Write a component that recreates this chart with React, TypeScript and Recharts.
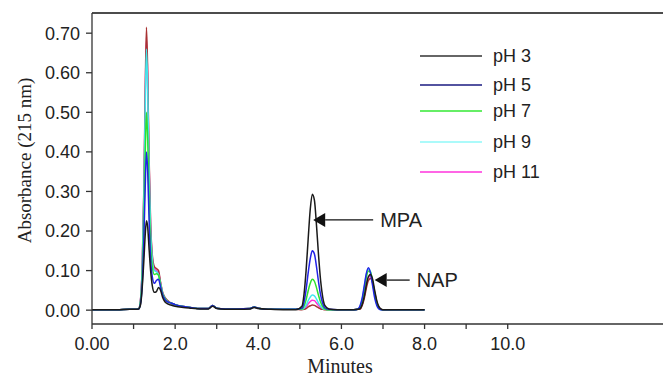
import { ComposedChart, Line, XAxis, YAxis, ReferenceLine, ReferenceDot } from "recharts";

const SANS = "'Liberation Sans', Arial, sans-serif";
const SERIF = "'Liberation Serif', 'Times New Roman', serif";
const INK = "#222";

// retention time, minutes
const TIME = [
  0, 0.3, 0.6, 0.9, 1.05,
  1.12, 1.17, 1.21, 1.25, 1.28, 1.31, 1.34, 1.37, 1.41, 1.45, 1.5, 1.55, 1.6, 1.65, 1.7, 1.75, 1.8,
  1.9, 2.0, 2.2, 2.4, 2.6, 2.8, 2.9, 3.0, 3.2, 3.5, 3.8, 3.9, 4.0, 4.3, 4.6, 4.9,
  5.05, 5.1, 5.15, 5.2, 5.25, 5.3, 5.35, 5.4, 5.45, 5.5, 5.55, 5.6,
  5.7, 5.9, 6.1, 6.3,
  6.4, 6.45, 6.5, 6.55, 6.6, 6.65, 6.7, 6.75, 6.8, 6.85, 6.9, 6.95, 7.0,
  7.1, 7.3, 7.6, 8.0,
];

const PH3 = [
  0.001, 0.001, 0.001, 0.002, 0.002,
  0.003, 0.015, 0.06, 0.13, 0.19, 0.226, 0.21, 0.16, 0.1, 0.062, 0.045, 0.047, 0.057, 0.05, 0.032, 0.022, 0.017,
  0.013, 0.01, 0.007, 0.005, 0.003, 0.003, 0.01, 0.004, 0.002, 0.002, 0.003, 0.007, 0.004, 0.002, 0.001, 0.001,
  0.01, 0.04, 0.1, 0.18, 0.255, 0.293, 0.278, 0.215, 0.138, 0.074, 0.033, 0.012,
  0.003, 0.001, 0.001, 0.001,
  0.002, 0.004, 0.014, 0.035, 0.064, 0.085, 0.09, 0.078, 0.05, 0.024, 0.009, 0.003, 0.001,
  0.001, 0.001, 0.001, 0.001,
];

const PH5 = [
  0.001, 0.001, 0.001, 0.002, 0.002,
  0.003, 0.018, 0.07, 0.19, 0.31, 0.4, 0.35, 0.24, 0.13, 0.085, 0.068, 0.075, 0.078, 0.058, 0.038, 0.028, 0.022,
  0.018, 0.014, 0.009, 0.006, 0.004, 0.004, 0.012, 0.005, 0.003, 0.003, 0.004, 0.008, 0.005, 0.002, 0.002, 0.002,
  0.005, 0.02, 0.052, 0.094, 0.13, 0.15, 0.142, 0.11, 0.071, 0.038, 0.017, 0.006,
  0.002, 0.001, 0.001, 0.001,
  0.003, 0.012, 0.031, 0.062, 0.093, 0.107, 0.093, 0.062, 0.031, 0.012, 0.003, 0.001, 0.001,
  0.001, 0.001, 0.001, 0.001,
];

const PH7 = [
  0.001, 0.001, 0.001, 0.002, 0.002,
  0.003, 0.022, 0.085, 0.23, 0.39, 0.5, 0.43, 0.29, 0.16, 0.11, 0.09, 0.092, 0.088, 0.062, 0.04, 0.03, 0.023,
  0.018, 0.014, 0.009, 0.006, 0.004, 0.004, 0.012, 0.005, 0.003, 0.003, 0.004, 0.008, 0.005, 0.002, 0.002, 0.002,
  0.003, 0.01, 0.026, 0.049, 0.068, 0.078, 0.073, 0.057, 0.037, 0.02, 0.009, 0.003,
  0.001, 0.001, 0.001, 0.001,
  0.002, 0.008, 0.024, 0.052, 0.083, 0.099, 0.096, 0.072, 0.041, 0.017, 0.006, 0.002, 0.001,
  0.001, 0.001, 0.001, 0.001,
];

const PH9 = [
  0.001, 0.001, 0.001, 0.002, 0.002,
  0.003, 0.028, 0.11, 0.3, 0.51, 0.66, 0.56, 0.37, 0.2, 0.13, 0.1, 0.097, 0.09, 0.066, 0.043, 0.031, 0.024,
  0.018, 0.014, 0.009, 0.006, 0.004, 0.004, 0.012, 0.005, 0.003, 0.003, 0.004, 0.008, 0.005, 0.002, 0.002, 0.002,
  0.002, 0.005, 0.012, 0.024, 0.033, 0.038, 0.036, 0.028, 0.018, 0.01, 0.004, 0.002,
  0.001, 0.001, 0.001, 0.001,
  0.003, 0.01, 0.028, 0.058, 0.09, 0.104, 0.097, 0.07, 0.037, 0.015, 0.005, 0.001, 0.001,
  0.001, 0.001, 0.001, 0.001,
];

const PH11 = [
  0.001, 0.001, 0.001, 0.002, 0.002,
  0.003, 0.03, 0.115, 0.31, 0.53, 0.69, 0.58, 0.385, 0.21, 0.135, 0.105, 0.1, 0.095, 0.068, 0.044, 0.032, 0.025,
  0.018, 0.014, 0.009, 0.006, 0.004, 0.004, 0.012, 0.005, 0.003, 0.003, 0.004, 0.008, 0.005, 0.002, 0.002, 0.002,
  0.002, 0.003, 0.008, 0.016, 0.022, 0.025, 0.024, 0.018, 0.012, 0.006, 0.003, 0.002,
  0.001, 0.001, 0.001, 0.001,
  0.002, 0.004, 0.016, 0.038, 0.066, 0.083, 0.085, 0.07, 0.043, 0.02, 0.007, 0.002, 0.001,
  0.001, 0.001, 0.001, 0.001,
];

// unlabelled dark red trace in the original
const EXTRA = [
  0.001, 0.001, 0.001, 0.002, 0.002,
  0.003, 0.03, 0.12, 0.32, 0.55, 0.715, 0.6, 0.4, 0.22, 0.14, 0.11, 0.105, 0.1, 0.07, 0.045, 0.033, 0.026,
  0.018, 0.014, 0.009, 0.006, 0.004, 0.004, 0.012, 0.005, 0.003, 0.003, 0.004, 0.008, 0.005, 0.002, 0.002, 0.002,
  0.001, 0.002, 0.004, 0.008, 0.011, 0.013, 0.012, 0.009, 0.006, 0.003, 0.002, 0.001,
  0.001, 0.001, 0.001, 0.001,
  0.002, 0.003, 0.012, 0.03, 0.056, 0.075, 0.08, 0.07, 0.045, 0.021, 0.008, 0.002, 0.001,
  0.001, 0.001, 0.001, 0.001,
];

const X_TICKS = [0, 1, 2, 3, 4, 5, 6, 7, 8, 9, 10];
const Y_TICKS = [0, 0.1, 0.2, 0.3, 0.4, 0.5, 0.6, 0.7];
const Y_MAX = 0.751;

// drawn bottom to top
const SERIES = [
  { key: "ph11", name: "pH 11", color: "#ff30d8", values: PH11 },
  { key: "extra", name: "", color: "#a83232", values: EXTRA },
  { key: "ph9", name: "pH 9", color: "#40e8ee", values: PH9 },
  { key: "ph7", name: "pH 7", color: "#2ee02e", values: PH7 },
  { key: "ph5", name: "pH 5", color: "#2222e6", values: PH5 },
  { key: "ph3", name: "pH 3", color: "#1a1a1a", values: PH3 },
];

const LEGEND = [
  { name: "pH 3", color: "#333333" },
  { name: "pH 5", color: "#1a1a80" },
  { name: "pH 7", color: "#33e833" },
  { name: "pH 9", color: "#8ff8f8" },
  { name: "pH 11", color: "#ff33dd" },
];
const LEGEND_Y = [56, 85, 111, 142, 172];

const data = TIME.map((t, i) => {
  const row: Record<string, number> = { t };
  SERIES.forEach((s) => {
    row[s.key] = s.values[i];
  });
  return row;
});

function xTick(v: number) {
  if (v === 0) return "0.00";
  return v % 2 === 0 ? v.toFixed(1) : "";
}

function Arrow(props: any) {
  const { cx, cy, text, shaft } = props;
  return (
    <g>
      <polygon points={`${cx},${cy} ${cx + 12},${cy - 7} ${cx + 12},${cy + 7}`} fill="#111" />
      <line x1={cx + 12} y1={cy} x2={cx + shaft} y2={cy} stroke="#111" strokeWidth={1.3} />
      <text
        x={cx + shaft + 7}
        y={cy + 7}
        fontSize={20}
        fontFamily={SANS}
        fill={INK}
      >
        {text}
      </text>
    </g>
  );
}

export default function App() {
  return (
    <div
      style={{
        position: "absolute",
        left: 0,
        top: 0,
        width: 663,
        height: 376,
        overflow: "hidden",
        background: "#fff",
      }}
    >
      <ComposedChart
        width={680}
        height={376}
        data={data}
        margin={{ top: 13, right: 6, bottom: 0, left: 0 }}
      >
        <XAxis
          type="number"
          dataKey="t"
          domain={[0, 14]}
          ticks={X_TICKS}
          interval={0}
          tickFormatter={xTick}
          height={52}
          tickSize={5}
          tickMargin={8}
          stroke="#333"
          strokeWidth={1.3}
          tick={{ fontSize: 18, fontFamily: SANS, fill: INK }}
          label={({ viewBox }: any) => (
            <text
              x={viewBox.x + 248}
              y={viewBox.y + 49}
              textAnchor="middle"
              fontSize={20}
              fontFamily={SERIF}
              fill={INK}
            >
              Minutes
            </text>
          )}
        />
        <YAxis
          type="number"
          domain={[-0.035, Y_MAX]}
          allowDataOverflow
          ticks={Y_TICKS}
          interval={0}
          tickFormatter={(v: number) => v.toFixed(2)}
          width={92}
          tickSize={6}
          tickMargin={6}
          stroke="#333"
          strokeWidth={1.3}
          tick={{ fontSize: 18, fontFamily: SANS, fill: INK }}
          label={({ viewBox }: any) => {
            const cx = viewBox.x + 24;
            const cy = viewBox.y + viewBox.height / 2 - 8;
            return (
              <text
                x={cx}
                y={cy}
                transform={`rotate(-90 ${cx} ${cy})`}
                textAnchor="middle"
                dominantBaseline="central"
                fontSize={19}
                fontFamily={SERIF}
                fill={INK}
              >
                Absorbance (215 nm)
              </text>
            );
          }}
        />
        <ReferenceLine y={Y_MAX} stroke="#111" strokeWidth={1.5} />
        {SERIES.map((s) => (
          <Line
            key={s.key}
            type="monotone"
            dataKey={s.key}
            name={s.name}
            stroke={s.color}
            strokeWidth={1.5}
            dot={false}
            isAnimationActive={false}
          />
        ))}
        <ReferenceDot
          x={5.32}
          y={0.228}
          r={0}
          shape={(p: any) => <Arrow {...p} text="MPA" shaft={60} />}
        />
        <ReferenceDot
          x={6.8}
          y={0.076}
          r={0}
          shape={(p: any) => <Arrow {...p} text="NAP" shaft={35} />}
        />
      </ComposedChart>
      <svg
        width={663}
        height={376}
        style={{ position: "absolute", left: 0, top: 0, pointerEvents: "none" }}
      >
        {LEGEND.map((l, i) => (
          <g key={l.name}>
            <line x1={420} x2={482} y1={LEGEND_Y[i]} y2={LEGEND_Y[i]} stroke={l.color} strokeWidth={1.5} />
            <text
              x={493}
              y={LEGEND_Y[i]}
              dominantBaseline="central"
              fontSize={18}
              fontFamily={SANS}
              fill={INK}
            >
              {l.name}
            </text>
          </g>
        ))}
      </svg>
    </div>
  );
}
